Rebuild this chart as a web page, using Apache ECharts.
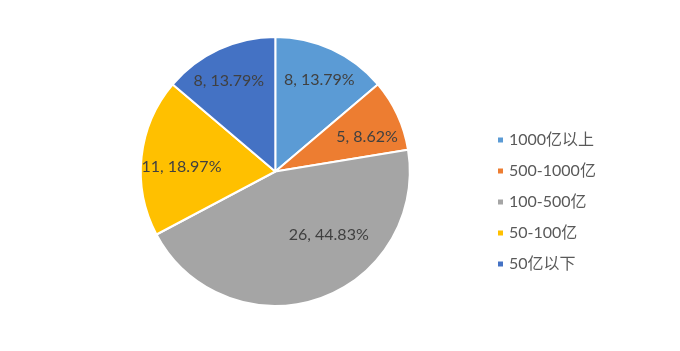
<!DOCTYPE html>
<html>
<head>
<meta charset="utf-8">
<script src="https://cdn.jsdelivr.net/npm/echarts@6/dist/echarts.min.js"></script>
<style>html,body{margin:0;padding:0;background:#fff;}#c{width:680px;height:351px;}</style>
</head>
<body>
<div id="c"></div>
<script>
const categories = ['1000亿以上', '500-1000亿', '100-500亿', '50-100亿', '50亿以下'];
const values = [8, 5, 26, 11, 8];
const percents = ['13.79%', '8.62%', '44.83%', '18.97%', '13.79%'];
const colors = ['#5B9BD5', '#ED7D31', '#A5A5A5', '#FFC000', '#4472C4'];
const labelShift = [[14.5, -27.5], [28, -5], [31, -3], [-24, 3], [-17, -27]];

const FONT = 'Lato, "Noto Sans CJK SC", sans-serif';
const chart = echarts.init(document.getElementById('c'), null, {renderer: 'canvas'});
chart.setOption({
  backgroundColor: '#ffffff',
  animation: false,
  color: colors,
  legend: {
    orient: 'vertical',
    left: 491,
    top: 127,
    itemWidth: 7,
    itemHeight: 7,
    itemGap: 15,
    icon: 'rect',
    textStyle: {color: '#595959', fontSize: 16, fontFamily: FONT},
    data: categories
  },
  series: [{
    type: 'pie',
    center: [275.3, 171.5],
    radius: [0, 134.5],
    startAngle: 90,
    clockwise: true,
    avoidLabelOverlap: false,
    itemStyle: {borderColor: '#ffffff', borderWidth: 2},
    label: {
      show: true,
      position: 'inside',
      color: '#404040',
      fontSize: 16,
      fontFamily: FONT,
      formatter: p => p.value + ', ' + percents[p.dataIndex]
    },
    labelLine: {show: false},
    labelLayout: p => ({dx: labelShift[p.dataIndex][0], dy: labelShift[p.dataIndex][1]}),
    emphasis: {disabled: true},
    data: categories.map((c, i) => ({name: c, value: values[i]}))
  }]
});
</script>
</body>
</html>
